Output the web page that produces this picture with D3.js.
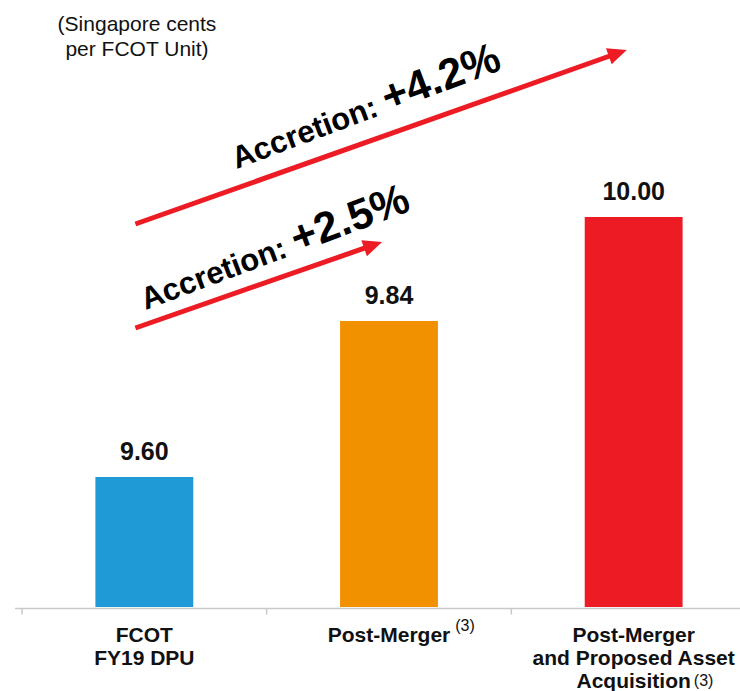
<!DOCTYPE html>
<html>
<head>
<meta charset="utf-8">
<script src="https://cdn.jsdelivr.net/npm/d3@7"></script>
<style>
  body { margin: 0; background: #fff; }
  svg { display: block; font-family: "Liberation Sans", Arial, sans-serif; }
</style>
</head>
<body>
<svg id="chart" width="740" height="691"></svg>
<script>
// data
var categories = ['FCOT|FY19 DPU', 'Post-Merger', 'Post-Merger|and Proposed Asset|Acquisition']
var footnotes = ['', '(3)', '(3)']
var values = [9.60, 9.84, 10.00]
var colors = ['#1f9ad6', '#f29100', '#ed1c24']
var accretions = [{from: 0, to: 1, label: 'Accretion: ', pct: '+2.5%'},
                  {from: 0, to: 2, label: 'Accretion: ', pct: '+4.2%'}]

var svg = d3.select('#chart')

var x = d3.scaleBand().domain(d3.range(categories.length))
    .range([22, 756]).paddingInner(0.6).paddingOuter(0.3)
var y = d3.scaleLinear().domain([9.40, 10.00]).range([607, 217])

// unit note
svg.append('text')
    .attr('text-anchor', 'middle')
    .style('font-size', '21px').style('fill', '#111')
    .selectAll('tspan').data(['(Singapore cents', 'per FCOT Unit)']).join('tspan')
    .attr('x', 137).attr('y', function(d, i) { return 31 + i * 25 })
    .text(function(d) { return d })

// bars
svg.selectAll('rect.bar').data(values).join('rect')
    .attr('class', 'bar')
    .attr('x', function(d, i) { return x(i) })
    .attr('width', x.bandwidth())
    .attr('y', function(d) { return y(d) })
    .attr('height', function(d) { return y.range()[0] - y(d) })
    .style('fill', function(d, i) { return colors[i] })

// value labels
svg.selectAll('text.val').data(values).join('text')
    .attr('class', 'val')
    .attr('x', function(d, i) { return x(i) + x.bandwidth() / 2 })
    .attr('y', function(d) { return y(d) - 17 })
    .attr('text-anchor', 'middle')
    .style('font-size', '25px').style('font-weight', 'bold').style('fill', '#111')
    .text(function(d) { return d.toFixed(2) })

// axis line + ticks at band boundaries
var base = y.range()[0] + 1.5
svg.append('line')
    .attr('x1', 15).attr('x2', 740).attr('y1', base).attr('y2', base)
    .style('stroke', '#c9c9c9').style('stroke-width', 1.5)
var bounds = d3.range(categories.length + 1).map(function(i) { return x.range()[0] + i * x.step() })
svg.selectAll('line.tick').data(bounds).join('line')
    .attr('class', 'tick')
    .attr('x1', function(d) { return d }).attr('x2', function(d) { return d })
    .attr('y1', base).attr('y2', base + 6)
    .style('stroke', '#c9c9c9').style('stroke-width', 1.5)

// category labels
categories.forEach(function(c, i) {
    var cx = x(i) + x.bandwidth() / 2
    var lines = c.split('|')
    var t = svg.append('text')
        .attr('text-anchor', 'middle')
        .style('font-size', '21px').style('font-weight', 'bold').style('fill', '#111')
    lines.forEach(function(l, j) {
        t.append('tspan').attr('x', cx).attr('y', 642 + j * 23).text(l)
    })
    if (footnotes[i]) {
        var last = t.selectAll('tspan').nodes().pop()
        var w = last.getComputedTextLength()
        var raise = lines.length > 1 ? 2 : 11
        svg.append('text')
            .attr('x', cx + w / 2 + (lines.length > 1 ? 3 : 5))
            .attr('y', 642 + (lines.length - 1) * 23 - raise)
            .style('font-size', '16px').style('fill', '#111')
            .text(footnotes[i])
    }
})

// accretion arrows
var arrowColor = '#ed1c24'
accretions.forEach(function(a) {
    var top = y(values[a.to])
    var x0 = x(a.from) + 40
    var y0 = top + 7
    var x1 = x(a.to) + 42
    var y1 = top - (a.to == 2 ? 167 : 79)
    var ang = Math.atan2(y1 - y0, x1 - x0)
    var hl = 19, hw = 8.5
    var bx = x1 - hl * Math.cos(ang), by = y1 - hl * Math.sin(ang)
    svg.append('line')
        .attr('x1', x0).attr('y1', y0).attr('x2', bx + Math.cos(ang)).attr('y2', by + Math.sin(ang))
        .style('stroke', arrowColor).style('stroke-width', 5)
    svg.append('path')
        .attr('d', 'M' + x1 + ',' + y1 +
            'L' + (bx - hw * Math.sin(ang)) + ',' + (by + hw * Math.cos(ang)) +
            'L' + (bx + hw * Math.sin(ang)) + ',' + (by - hw * Math.cos(ang)) + 'Z')
        .style('fill', arrowColor)

    // label above the arrow
    var tx = x0 + (a.to == 2 ? 101 : 10)
    var ty = y0 - (a.to == 2 ? 55 : 18)
    var t = svg.append('text')
        .attr('transform', 'translate(' + tx + ',' + ty + ') rotate(-20.5)')
        .style('font-weight', 'bold').style('fill', '#000')
    t.append('tspan').style('font-size', '31px').text(a.label)
    t.append('tspan').style('font-size', '43px').text(a.pct)
})
</script>
</body>
</html>
